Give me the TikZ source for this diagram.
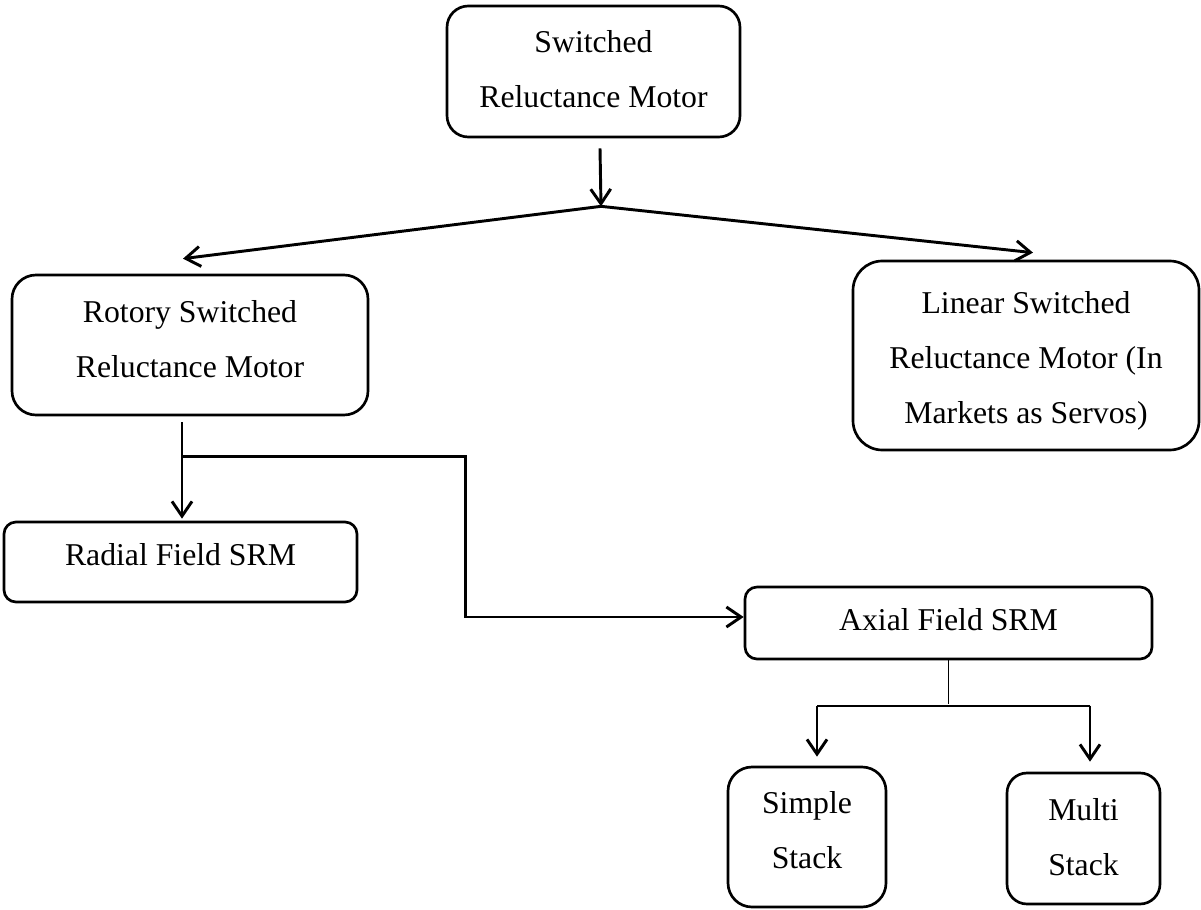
\documentclass[tikz,border=0pt]{standalone}
\usepackage{fontspec}
\setmainfont{Liberation Serif}
\usetikzlibrary{arrows.meta,calc}
\tikzset{
  box/.style={draw, line width=2pt, align=center, inner sep=0pt, text height=16pt,
    font={\fontsize{23.8}{41.25}\selectfont}},
  arr/.style={line width=2.2pt, -{Straight Barb[length=11pt,width=15pt,line width=2.2pt]}},
  conn/.style={line width=2.2pt},
  thin/.style={line width=1.3pt}
}
\begin{document}
\begin{tikzpicture}[x=0.75pt,y=-0.75pt]
\useasboundingbox (0,0) rectangle (1201,909);
\node[box, rounded corners=16pt, minimum width=219.75pt, minimum height=98.25pt, text height=57.25pt, text depth=2.5pt] (top) at (593.5,71.5) {Switched\\Reluctance Motor};
\node[box, rounded corners=18pt, minimum width=267pt, minimum height=105pt, text height=57.25pt, text depth=9.25pt] (rot) at (190,345) {Rotory Switched\\Reluctance Motor};
\node[box, rounded corners=22pt, minimum width=259.5pt, minimum height=141.75pt, text height=101.25pt, text depth=0pt] (lin) at (1026,355.5) {Linear Switched\\Reluctance Motor (In\\Markets as Servos)};
\node[box, rounded corners=9pt, minimum width=264.75pt, minimum height=60pt, text depth=11.5pt] (rad) at (180.5,562) {Radial Field SRM};
\node[box, rounded corners=9pt, minimum width=305.25pt, minimum height=54pt, text depth=5.5pt] (ax) at (948.5,623) {Axial Field SRM};
\node[box, rounded corners=18pt, minimum width=118.5pt, minimum height=105pt, text height=57.25pt, text depth=10.75pt] (sim) at (807,837) {Simple\\Stack};
\node[box, rounded corners=15pt, minimum width=114.75pt, minimum height=98.25pt, text height=57.25pt, text depth=2.5pt] (mul) at (1083.5,838.5) {Multi\\Stack};

\coordinate (J) at ($(top.south)+(7.5,68)$);
\draw[arr] ($(top.south)+(6.5,10)$) -- (J);
\draw[arr] (J) -- ($(rot.north)+(-7,-15)$);
\draw[arr] (J) -- ($(lin.north)+(7,-7)$);

\draw[arr] ($(rot.south)+(-8,6)$) -- ($(rad.north)+(1.5,-2)$);
\coordinate (B) at ($(rot.south)+(-7,40)$);
\draw[arr] (B) -| ($(ax.west)+(-278,-6)$) -- ($(ax.west)+(0,-6)$);

\coordinate (SL) at ($(sim.north)+(10,-60)$);
\coordinate (SR) at ($(mul.north)+(6.5,-66)$);
\draw[thin] (ax.south) -- ($(ax.south)+(0,44)$);
\draw[thin] (SL) -- (SR);
\draw[arr] (SL) -- ($(sim.north)+(10,-9)$);
\draw[arr] (SR) -- ($(mul.north)+(6.5,-10)$);
\end{tikzpicture}
\end{document}
